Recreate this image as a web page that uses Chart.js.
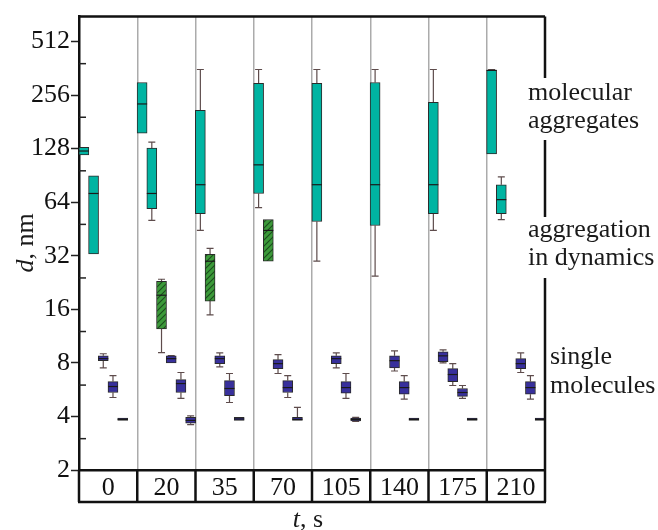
<!DOCTYPE html>
<html>
<head>
<meta charset="utf-8">
<script src="https://cdn.jsdelivr.net/npm/chart.js@4/dist/chart.umd.min.js"></script>
<style>
html,body{margin:0;padding:0;background:#fff}
</style>
</head>
<body>
<canvas id="c" width="658" height="530"></canvas>
<script>
const times = ['0','20','35','70','105','140','175','210'];

// molecular aggregates (teal)
const aggGroup = [0, 0, 1, 1, 2, 3, 4, 5, 6, 7, 7];
const aggSlot  = [0, 1, 0, 1, 0, 0, 0, 0, 0, 0, 1];
const aggMin   = [null, null, null, 50.6, 44.4, 59.6, 29.8, 24.6, 44.4, null, 51.1];
const aggQ1    = [118, 32.8, 156, 58.9, 55.2, 71.6, 49.8, 47.3, 55.2, 119.6, 55.2];
const aggMed   = [124, 71.6, 228, 71.6, 80.2, 103.7, 80.2, 80.2, 80.2, 352, 66.1];
const aggQ3    = [130, 90, 301, 129, 210, 298, 298, 301, 233, 352, 80.2];
const aggMax   = [null, null, null, 139, 356, 356, 356, 356, 356, 356, 88.8];

// aggregation in dynamics (green, hatched)
const dynGroup = [1, 2, 3];
const dynSlot  = [2, 1, 1];
const dynMin   = [9.13, 14.9, null];
const dynQ1    = [12.4, 17.8, 29.8];
const dynMed   = [19.2, 29.8, 44.4];
const dynQ3    = [23.0, 32.6, 51.1];
const dynMax   = [23.6, 35.2, null];

// single molecules (blue)
const monoGroup = [0,0,0, 1,1,1, 2,2,2, 3,3,3, 4,4,4, 5,5,5, 6,6,6,6, 7,7,7];
const monoSlot  = [2,3,4, 3,4,5, 2,3,4, 2,3,4, 2,3,4, 2,3,4, 1,2,3,4, 3,4,5];
const monoMin = [7.5,5.11,3.8, 8.0,5.05,3.6, 7.6,4.79,3.8, 6.97,5.11,3.8, 7.5,5.05,3.75, 7.2,5.0,3.8, 8.0,5.97,5.05,3.8, 7.06,5.0,3.8];
const monoQ1  = [8.23,5.45,3.8, 8.0,5.45,3.66, 7.92,5.24,3.8, 7.42,5.45,3.8, 7.92,5.41,3.78, 7.5,5.33,3.8, 8.12,6.28,5.18,3.8, 7.42,5.33,3.8];
const monoMed = [8.45,5.89,3.85, 8.45,6.12,3.8, 8.45,5.74,3.87, 7.92,5.81,3.85, 8.45,5.81,3.85, 8.23,5.81,3.85, 8.76,6.88,5.45,3.85, 7.92,5.81,3.85];
const monoQ3  = [8.76,6.28,3.92, 8.76,6.44,3.95, 8.76,6.36,3.95, 8.34,6.36,3.95, 8.76,6.28,3.92, 8.76,6.28,3.92, 9.24,7.42,5.74,3.92, 8.45,6.28,3.92];
const monoMax = [9.0,6.78,3.92, 8.8,7.06,4.03, 9.1,6.97,3.95, 8.9,6.78,4.5, 9.1,6.97,3.95, 9.35,6.78,3.92, 9.47,7.92,5.97,3.92, 9.1,6.78,3.92];

const yTicks = [2,3,4,6,8,12,16,24,32,48,64,96,128,192,256,384,512];

const SLOTS = 6;
const BOX_W = 10;
const FS = 26;
const FONT = "'Liberation Serif', 'Times New Roman', serif";

function xPos(g, k){ return g + (k + 0.5) / SLOTS; }

const series = [
  {group:aggGroup, slot:aggSlot, min:aggMin, q1:aggQ1, med:aggMed, q3:aggQ3, max:aggMax},
  {group:dynGroup, slot:dynSlot, min:dynMin, q1:dynQ1, med:dynMed, q3:dynQ3, max:dynMax},
  {group:monoGroup, slot:monoSlot, min:monoMin, q1:monoQ1, med:monoMed, q3:monoQ3, max:monoMax}
];

function boxes(s){
  return s.group.map((g,i)=>({x:xPos(g, s.slot[i]), y:[s.q1[i], s.q3[i]]}));
}

const cv = document.getElementById('c');
const ctx = cv.getContext('2d');

// hatch for the green boxes
const tile = document.createElement('canvas');
tile.width = 6; tile.height = 6;
const tg = tile.getContext('2d');
tg.fillStyle = '#3c9a3a';
tg.fillRect(0,0,6,6);
tg.strokeStyle = '#1b4d1d';
tg.lineWidth = 1.1;
tg.beginPath();
tg.moveTo(0,6); tg.lineTo(6,0);
tg.moveTo(-1,1); tg.lineTo(1,-1);
tg.moveTo(5,7); tg.lineTo(7,5);
tg.stroke();
const hatch = ctx.createPattern(tile, 'repeat');

const decor = {
  id:'decor',
  beforeDatasetsDraw(chart){
    const c = chart.ctx, xs = chart.scales.x, ys = chart.scales.y;
    c.save();
    c.strokeStyle = '#5e4c4c';
    c.lineWidth = 1.2;
    series.forEach(s=>{
      s.group.forEach((g,i)=>{
        const x = xs.getPixelForValue(xPos(g, s.slot[i]));
        [[s.max[i], s.q3[i]], [s.min[i], s.q1[i]]].forEach(([w, edge])=>{
          if (w == null || w === edge) return;
          const y0 = ys.getPixelForValue(edge), y1 = ys.getPixelForValue(w);
          c.beginPath();
          c.moveTo(x, y0); c.lineTo(x, y1);
          c.moveTo(x-3.5, y1); c.lineTo(x+3.5, y1);
          c.stroke();
        });
      });
    });
    c.restore();
  },
  afterDatasetsDraw(chart){
    const c = chart.ctx, xs = chart.scales.x, ys = chart.scales.y;
    const a = chart.chartArea;
    c.save();
    // medians
    c.strokeStyle = '#1a1a1a';
    c.lineWidth = 1.2;
    series.forEach(s=>{
      s.group.forEach((g,i)=>{
        const x = xs.getPixelForValue(xPos(g, s.slot[i]));
        const y = ys.getPixelForValue(s.med[i]);
        c.beginPath();
        c.moveTo(x-BOX_W/2, y); c.lineTo(Math.min(x+BOX_W/2, a.right), y);
        c.stroke();
      });
    });
    // minor ticks, inside
    c.strokeStyle = '#222';
    c.lineWidth = 1.5;
    yTicks.forEach(v=>{
      if (Math.log2(v) % 1 === 0) return;
      const y = ys.getPixelForValue(v);
      c.beginPath(); c.moveTo(a.left, y); c.lineTo(a.left+7, y); c.stroke();
    });
    // frame: top and broken right side
    c.strokeStyle = '#111';
    c.lineWidth = 2.5;
    c.beginPath();
    c.moveTo(a.left, a.top); c.lineTo(a.right, a.top);
    [[a.top, 78], [140, 217], [278, a.bottom]].forEach(([t,b])=>{
      c.moveTo(a.right, t); c.lineTo(a.right, b);
    });
    c.stroke();
    // table under the axis
    const tb = a.bottom + 32;
    c.beginPath();
    for (let i = 0; i <= times.length; i++){
      const x = xs.getPixelForValue(i);
      c.moveTo(x, a.bottom); c.lineTo(x, tb);
    }
    c.moveTo(xs.getPixelForValue(0)-1, tb); c.lineTo(xs.getPixelForValue(times.length)+1, tb);
    c.stroke();
    c.restore();
  },
  afterDraw(chart){
    const c = chart.ctx;
    c.save();
    c.fillStyle = '#1a1a1a';
    c.textBaseline = 'alphabetic';
    c.textAlign = 'left';
    c.font = FS + 'px ' + FONT;
    c.fillText('molecular', 528, 100);
    c.fillText('aggregates', 528, 128);
    c.fillText('aggregation', 528, 237);
    c.fillText('in dynamics', 528, 265);
    c.fillText('single', 550, 364);
    c.fillText('molecules', 550, 393);

    // x title "t, s"
    const it = 'italic ' + FS + 'px ' + FONT, rg = FS + 'px ' + FONT;
    c.font = it; const w1 = c.measureText('t').width;
    c.font = rg; const w2 = c.measureText(', s').width;
    let x0 = 308 - (w1 + w2) / 2;
    c.font = it; c.fillText('t', x0, 527);
    c.font = rg; c.fillText(', s', x0 + w1, 527);

    // y title "d, nm"
    c.translate(33, 243);
    c.rotate(-Math.PI/2);
    c.font = it; const w3 = c.measureText('d').width;
    c.font = rg; const w4 = c.measureText(', nm').width;
    x0 = -(w3 + w4) / 2;
    c.font = it; c.fillText('d', x0, 0);
    c.font = rg; c.fillText(', nm', x0 + w3, 0);
    c.restore();
  }
};

new Chart(cv, {
  type:'bar',
  data:{
    datasets:[
      {label:'molecular aggregates', data:boxes(series[0]), backgroundColor:'#00b4a2', borderColor:'#2b2b2b', borderWidth:1, borderSkipped:false, barThickness:BOX_W, grouped:false},
      {label:'aggregation in dynamics', data:boxes(series[1]), backgroundColor:hatch, borderColor:'#2b2b2b', borderWidth:1, borderSkipped:false, barThickness:BOX_W, grouped:false},
      {label:'single molecules', data:boxes(series[2]), backgroundColor:'#38309c', borderColor:'#2b2b2b', borderWidth:1, borderSkipped:false, barThickness:BOX_W, grouped:false}
    ]
  },
  options:{
    responsive:false,
    animation:false,
    devicePixelRatio:1,
    layout:{padding:{left:0, top:14, right:113, bottom:28}},
    plugins:{legend:{display:false}, tooltip:{enabled:false}},
    scales:{
      x:{
        type:'linear', min:0, max:times.length, offset:false,
        afterBuildTicks(s){
          const t = [];
          for (let i = 0; i <= times.length*2; i++) t.push({value:i/2});
          s.ticks = t;
        },
        afterFit(s){ s.height = 32; },
        ticks:{
          autoSkip:false, maxRotation:0, padding:3,
          color:'#111', font:{family:FONT, size:FS},
          callback:(v)=> Number.isInteger(v) ? '' : times[Math.floor(v)]
        },
        grid:{
          offset:false, drawTicks:false, lineWidth:1.5,
          color:(c)=> (c.tick && Number.isInteger(c.tick.value) && c.tick.value > 0 && c.tick.value < times.length) ? '#ababab' : 'rgba(0,0,0,0)'
        },
        border:{display:true, color:'#111', width:2.5}
      },
      y:{
        type:'logarithmic', min:2, max:706,
        afterBuildTicks(s){ s.ticks = yTicks.map(v=>({value:v})); },
        afterFit(s){ s.width = 79; },
        ticks:{
          autoSkip:false, padding:1,
          color:'#111', font:{family:FONT, size:FS},
          callback:(v)=> (Math.log2(v) % 1 === 0) ? String(v) : ''
        },
        grid:{
          drawOnChartArea:false, tickLength:8, tickWidth:1.5,
          tickColor:(c)=> (c.tick && Math.log2(c.tick.value) % 1 === 0) ? '#222' : 'rgba(0,0,0,0)'
        },
        border:{display:true, color:'#111', width:2.5}
      }
    }
  },
  plugins:[decor]
});
</script>
</body>
</html>
